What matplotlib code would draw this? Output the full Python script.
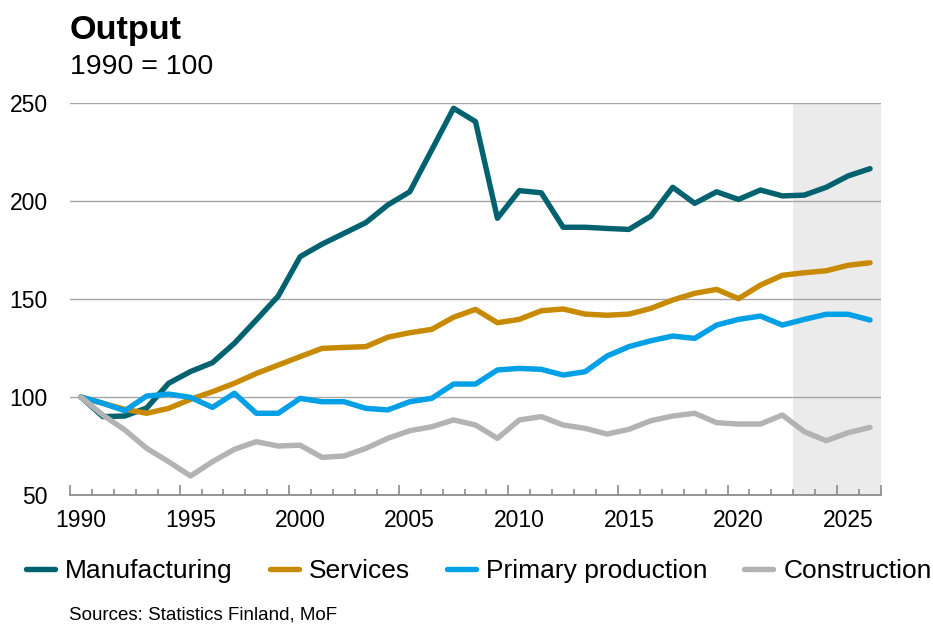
import numpy as np
import matplotlib
matplotlib.use('Agg')
import matplotlib.pyplot as plt

plt.rcParams['font.family'] = ['Liberation Sans', 'DejaVu Sans']

# Output volume indices, 1990 = 100 (2023-2026 forecast)
years = np.arange(1990, 2027)

manufacturing = [100, 90, 90.3, 94.4, 107, 113, 117.5, 127.4, 139.3, 151.5,
                 171.6, 178, 183.5, 189, 198, 204.7, 226, 247.3, 240.5, 191.2,
                 205.3, 204.2, 186.6, 186.6, 186, 185.5, 192.3, 207, 198.8, 204.7,
                 200.8, 205.6, 202.6, 203, 207, 212.8, 216.5]

services = [100, 96.8, 93.7, 91.7, 94.2, 98.8, 102.7, 107, 112, 116.3,
            120.6, 124.8, 125.3, 125.7, 130.5, 132.8, 134.5, 140.7, 144.7, 137.9,
            139.6, 144, 144.9, 142.3, 141.7, 142.3, 145.2, 149.5, 152.9, 154.9,
            150.2, 157.1, 162.1, 163.4, 164.4, 167.2, 168.5]

primary = [100, 96.8, 93, 100.5, 101.5, 99.8, 94.7, 101.9, 91.7, 91.7,
           99.3, 97.6, 97.6, 94.2, 93.4, 97.6, 99.3, 106.6, 106.6, 113.8,
           114.6, 114.1, 111.2, 112.9, 120.9, 125.7, 128.7, 131.1, 129.9, 136.7,
           139.6, 141.3, 136.7, 139.6, 142.2, 142.2, 139.3]

construction = [100, 90.8, 83.2, 73.8, 67, 59.7, 67, 73.3, 77.2, 75,
                75.4, 69.2, 69.9, 73.8, 78.9, 82.8, 84.8, 88.3, 85.7, 78.9,
                88.3, 90, 85.7, 84, 81.1, 83.5, 87.9, 90.3, 91.7, 86.9,
                86.2, 86.2, 90.8, 82.3, 77.7, 81.8, 84.5]

series_names = ['Manufacturing', 'Services', 'Primary production', 'Construction']
series_colors = ['#00626F', '#C88A00', '#00A0E6', '#B3B3B3']
forecast_start = 2023
label_years = [1990, 1995, 2000, 2005, 2010, 2015, 2020, 2025]
y_ticks = [50, 100, 150, 200, 250]

fig = plt.figure(figsize=(9.33, 6.25), dpi=100)
ax = fig.add_axes([70 / 933, 1 - 495 / 625, 811 / 933, 392 / 625])

# forecast period shading
ax.axvspan(forecast_start - 0.5, years[-1] + 0.5, color='#EBEBEB', zorder=0.2, lw=0)

for vals, name, col in zip([manufacturing, services, primary, construction],
                           series_names, series_colors):
    ax.plot(years, vals, color=col, lw=3.9, label=name,
            solid_capstyle='round', solid_joinstyle='round', zorder=3)

ax.set_xlim(years[0] - 0.5, years[-1] + 0.5)
ax.set_ylim(50, 250)

# y axis: labels only, gridlines
ax.set_yticks(y_ticks)
ax.tick_params(axis='y', length=0, pad=16, labelsize=16.5)
ax.set_axisbelow(True)
ax.yaxis.grid(True, color='#A6A6A6', lw=1.0)

for s in ['left', 'right', 'top']:
    ax.spines[s].set_visible(False)
ax.spines['bottom'].set_color('#8C8C8C')
ax.spines['bottom'].set_linewidth(1.3)
ax.spines['bottom'].set_zorder(2)

# x axis: tick marks between categories, longer every five years
bounds = np.arange(years[0] - 0.5, years[-1] + 1)
ax.set_xticks(list(bounds[::5]) + [bounds[-1]])
ax.set_xticks(bounds, minor=True)
ax.tick_params(axis='x', which='major', direction='in', length=7, width=1.2,
               color='#8C8C8C', labelbottom=False)
ax.tick_params(axis='x', which='minor', direction='in', length=4, width=1.2,
               color='#8C8C8C')

# year labels centred on the categories
sec = ax.secondary_xaxis('bottom')
sec.set_xticks(label_years)
sec.tick_params(length=0, pad=10, labelsize=16.5)
sec.spines['bottom'].set_visible(False)

fig.text(70 / 933, 1 - 39 / 625, 'Output', fontsize=24.7, fontweight='bold',
         va='baseline', ha='left')
fig.text(70 / 933, 1 - 74 / 625, '1990 = 100', fontsize=20.5,
         va='baseline', ha='left')

fig.legend(loc='center left', bbox_to_anchor=(26 / 933, 1 - 571 / 625), ncol=4,
           frameon=False, fontsize=19, handlelength=1.1, handletextpad=0.38,
           columnspacing=1.4, borderpad=0, borderaxespad=0)

fig.text(69 / 933, 1 - 619 / 625, 'Sources: Statistics Finland, MoF', fontsize=13.5,
         va='baseline', ha='left')

fig.savefig('out.png', dpi=100)
